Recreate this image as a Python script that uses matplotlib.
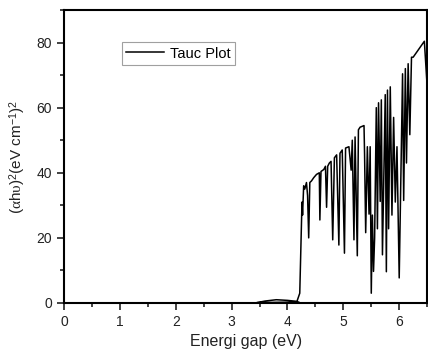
import matplotlib.pyplot as plt
from matplotlib.ticker import MultipleLocator

plt.rcParams['font.family'] = ['Liberation Sans', 'DejaVu Sans']
plt.rcParams['mathtext.fontset'] = 'custom'
plt.rcParams['mathtext.rm'] = 'Liberation Sans'
plt.rcParams['mathtext.it'] = 'Liberation Serif'

# energy (eV) and (alpha h nu)^2
energy = [4.20, 3.80, 3.45, 3.60, 3.80, 4.00, 4.17, 4.22, 4.26, 4.27, 4.29, 4.31,
          4.34, 4.36, 4.38, 4.40, 4.43, 4.47, 4.52, 4.57, 4.58, 4.60, 4.65, 4.68,
          4.70, 4.72, 4.75, 4.78, 4.81, 4.84, 4.88, 4.92, 4.94, 4.98, 5.02, 5.04,
          5.10, 5.14, 5.16, 5.19, 5.21, 5.25, 5.27, 5.30, 5.37, 5.38, 5.40, 5.43,
          5.46, 5.48, 5.50, 5.52, 5.54, 5.56, 5.59, 5.61, 5.63, 5.66, 5.68, 5.70,
          5.75, 5.77, 5.79, 5.81, 5.84, 5.87, 5.90, 5.93, 5.96, 6.00, 6.06, 6.08,
          6.11, 6.13, 6.16, 6.19, 6.22, 6.25, 6.27, 6.45, 6.50]
tauc = [0.3, 0.2, 0.1, 0.6, 1.0, 0.8, 0.5, 3.0, 31.0, 27.0, 36.0, 35.0,
        37.0, 33.0, 20.0, 37.0, 37.5, 38.5, 39.5, 40.0, 25.5, 40.4, 41.0, 42.0,
        29.4, 42.0, 43.0, 43.5, 19.4, 44.6, 45.5, 17.8, 46.0, 47.0, 15.3, 47.6,
        48.0, 40.8, 50.0, 19.4, 51.0, 14.5, 53.2, 54.0, 54.5, 45.7, 21.6, 48.0,
        27.3, 48.0, 3.0, 27.0, 9.7, 20.0, 60.0, 22.8, 61.5, 31.2, 62.4, 14.8,
        64.0, 9.6, 65.4, 22.8, 66.4, 27.0, 57.0, 31.0, 48.0, 7.7, 70.4, 31.5,
        72.0, 43.0, 73.5, 51.7, 75.5, 75.5, 76.0, 80.4, 66.6]

fig = plt.figure(figsize=(4.28, 3.51), dpi=100)
ax = fig.add_axes([0.1495, 0.1368, 0.8485, 0.8347])

ax.plot(energy, tauc, color='black', lw=1.1, label='Tauc Plot')

ax.set_xlim(0, 6.5)
ax.set_ylim(0, 90)
ax.xaxis.set_major_locator(MultipleLocator(1))
ax.xaxis.set_minor_locator(MultipleLocator(0.5))
ax.yaxis.set_major_locator(MultipleLocator(20))
ax.yaxis.set_minor_locator(MultipleLocator(10))
ax.tick_params(which='both', direction='out', top=False, right=False, labelsize=10, colors='#222222', width=1.2)
ax.tick_params(which='major', length=5)
ax.tick_params(which='minor', length=3)
for s in ax.spines.values():
    s.set_linewidth(1.5)

ax.set_xlabel('Energi gap (eV)', fontsize=11.5, color='#222222', labelpad=4)
ax.set_ylabel(r'$(\alpha$h$\upsilon)^2$(eV cm$^{-1}$)$^2$', fontsize=11, color='#222222', labelpad=6)

leg = ax.legend(loc='upper left', bbox_to_anchor=(0.14, 0.915), fontsize=10.5,
                fancybox=False, edgecolor='#888888', handlelength=2.6,
                borderpad=0.3, handletextpad=0.4)
leg.get_frame().set_linewidth(0.8)

fig.savefig('out.png', dpi=100)
